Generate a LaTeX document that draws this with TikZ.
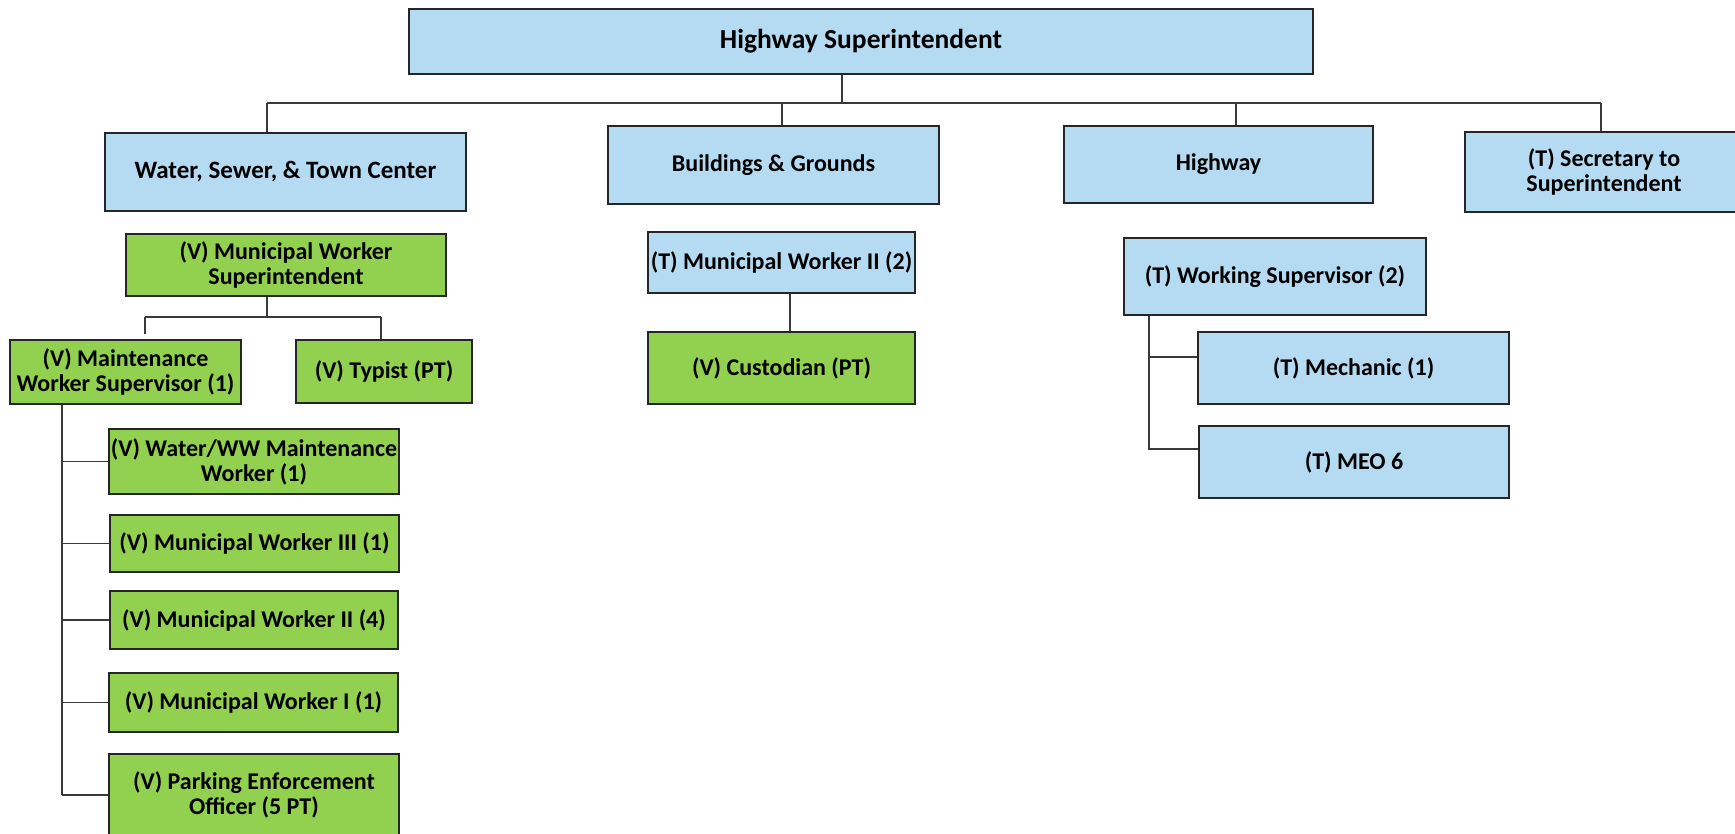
\documentclass[tikz,border=0pt]{standalone}
\usepackage{fontspec}
\setmainfont{Carlito}
\definecolor{boxblue}{HTML}{B4DBF2}
\definecolor{boxgreen}{HTML}{92D050}
\definecolor{edge}{HTML}{262626}
\definecolor{wire}{HTML}{3A3A3A}
\begin{document}
\begin{tikzpicture}[x=1pt,y=-1pt,
  base/.style={draw=edge,line width=1.4pt,rectangle,inner sep=0pt,align=center,
    font=\fontsize{24}{25}\selectfont\bfseries},
  bluebox/.style={base,fill=boxblue},
  greenbox/.style={base,fill=boxgreen},
  wireline/.style={draw=wire,line width=1.2pt}]
\useasboundingbox (0,0) rectangle (1735,833);
% top level
\node[bluebox,minimum width=904pt,minimum height=65pt,font=\fontsize{27.5}{30}\selectfont\bfseries] (top) at (861,41.5) {Highway Superintendent};
\node[bluebox,minimum width=361pt,minimum height=78pt,font=\fontsize{25}{27}\selectfont\bfseries] (water) at (285.5,172) {Water, Sewer, \& Town Center};
\node[bluebox,minimum width=331pt,minimum height=78pt] (bg) at (773.5,165) {Buildings \& Grounds};
\node[bluebox,minimum width=309pt,minimum height=77pt] (hwy) at (1218.5,164.5) {Highway};
\node[bluebox,minimum width=278pt,minimum height=80pt] (sec) at (1604,172) {(T) Secretary to\\Superintendent};
% water column
\node[greenbox,minimum width=320pt,minimum height=62pt] (mws) at (286,265) {(V) Municipal Worker\\Superintendent};
\node[greenbox,minimum width=231pt,minimum height=64pt] (maint) at (125.5,372) {(V) Maintenance\\Worker Supervisor (1)};
\node[greenbox,minimum width=176pt,minimum height=63pt] (typist) at (384,371.5) {(V) Typist (PT)};
\node[greenbox,minimum width=290pt,minimum height=65pt] (wwm) at (254,461.5) {(V) Water/WW Maintenance\\Worker (1)};
\node[greenbox,minimum width=289pt,minimum height=57pt] (mw3) at (254.5,543.5) {(V) Municipal Worker III (1)};
\node[greenbox,minimum width=288pt,minimum height=58pt] (mw2) at (254,620) {(V) Municipal Worker II (4)};
\node[greenbox,minimum width=289pt,minimum height=59pt] (mw1) at (253.5,702.5) {(V) Municipal Worker I (1)};
\node[greenbox,minimum width=290pt,minimum height=82pt] (park) at (254,795) {(V) Parking Enforcement\\Officer (5 PT)};
% buildings column
\node[bluebox,minimum width=267pt,minimum height=61pt] (bmw2) at (781.5,262.5) {(T) Municipal Worker II (2)};
\node[greenbox,minimum width=267pt,minimum height=72pt] (cust) at (781.5,368) {(V) Custodian (PT)};
% highway column
\node[bluebox,minimum width=302pt,minimum height=77pt] (ws) at (1275,276.5) {(T) Working Supervisor (2)};
\node[bluebox,minimum width=311pt,minimum height=72pt] (mech) at (1353.5,368) {(T) Mechanic (1)};
\node[bluebox,minimum width=310pt,minimum height=72pt] (meo) at (1354,462) {(T) MEO 6};
% junction coordinates
\coordinate (j0) at (842,103);
\coordinate (busL) at (267,103);
\coordinate (busR) at (1601,103);
\coordinate (b2) at (782,103);
\coordinate (b3) at (1236,103);
\coordinate (m0) at (267,317);
\coordinate (mL) at (145,317);
\coordinate (mR) at (381,317);
\coordinate (sBot) at (62,795);
\coordinate (w0) at (1149,449);
\coordinate (mechIn) at ([yshift=11pt]mech.west);
\coordinate (meoIn) at ([yshift=13pt]meo.west);
% connectors
\draw[wireline] (top.south -| j0) -- (j0);
\draw[wireline] (busL) -- (busR);
\draw[wireline] (busL) -- (busL |- water.north);
\draw[wireline] (b2) -- (b2 |- bg.north);
\draw[wireline] (b3) -- (b3 |- hwy.north);
\draw[wireline] (busR) -- (busR |- sec.north);
\draw[wireline] (mws.south -| m0) -- (m0);
\draw[wireline] (mL) -- (mR);
\draw[wireline] (mL) -- ([yshift=5pt]mL |- maint.north);
\draw[wireline] (mR) -- (mR |- typist.north);
\draw[wireline] (maint.south -| sBot) -- (sBot);
\draw[wireline] (wwm.west -| sBot) -- (wwm.west);
\draw[wireline] (mw3.west -| sBot) -- (mw3.west);
\draw[wireline] (mw2.west -| sBot) -- (mw2.west);
\draw[wireline] (mw1.west -| sBot) -- (mw1.west);
\draw[wireline] (sBot) -- (sBot -| park.west);
\draw[wireline] ([xshift=8.5pt]bmw2.south) -- ([xshift=8.5pt]cust.north);
\draw[wireline] (ws.south -| w0) -- (w0) -- (meoIn);
\draw[wireline] (mechIn -| w0) -- (mechIn);
\end{tikzpicture}
\end{document}
